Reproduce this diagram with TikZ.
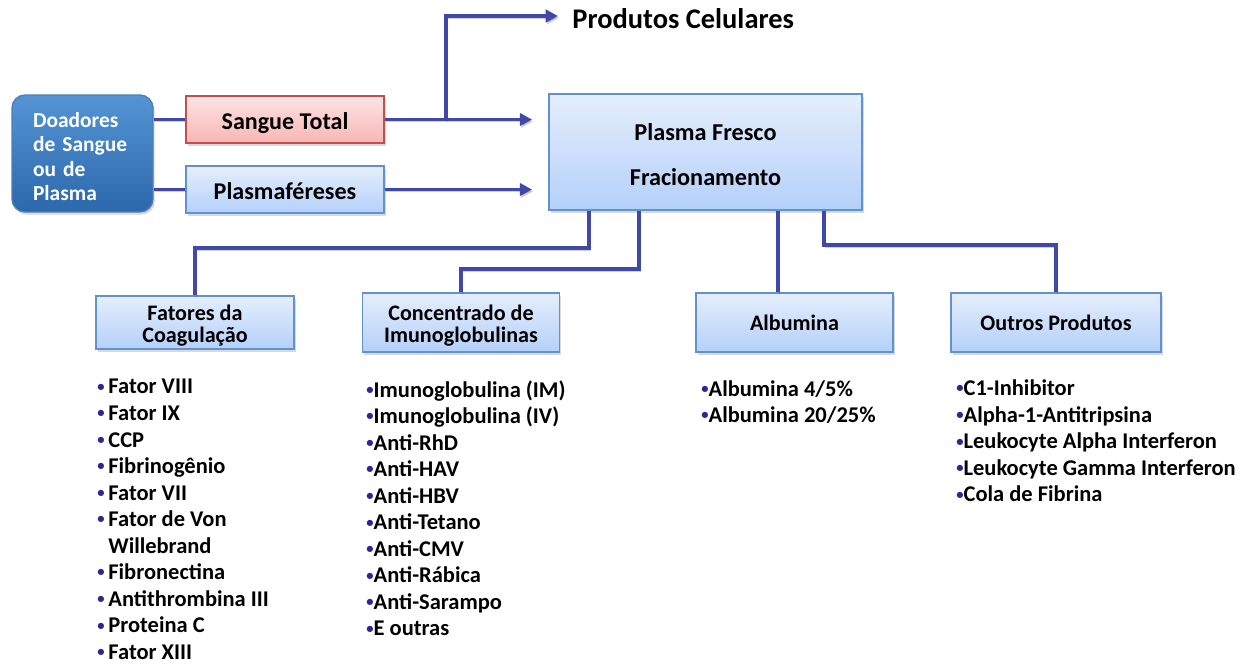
\documentclass[tikz,border=0pt]{standalone}
\usepackage{fontspec}
\setmainfont{Carlito}
\usepackage{tikz}
\usepackage{xcolor}
\usetikzlibrary{arrows.meta, positioning, calc, shadows}

\definecolor{linha}{RGB}{66,72,168}
\definecolor{bordaazul}{RGB}{98,146,206}
\definecolor{azulclaro}{RGB}{229,238,252}
\definecolor{azulmedio}{RGB}{180,208,250}
\definecolor{bordavermelha}{RGB}{192,80,77}
\definecolor{rosaclaro}{RGB}{253,228,227}
\definecolor{rosamedio}{RGB}{247,182,180}
\definecolor{doadtopo}{RGB}{84,148,212}
\definecolor{doadbase}{RGB}{44,104,172}
\definecolor{marcador}{RGB}{40,40,150}

\newcommand{\bul}{{\color{marcador}\raisebox{0.12em}{\scalebox{0.65}{\textbullet}}}}

\tikzset{
  sombra/.style={drop shadow={shadow xshift=1pt, shadow yshift=-1.5pt, opacity=0.3}},
  caixa/.style={sombra, draw=bordaazul, line width=1.1pt, top color=azulclaro, bottom color=azulmedio,
    inner sep=0pt, align=center, font=\bfseries\fontsize{12.6}{12.4}\selectfont},
  caixarosa/.style={caixa, draw=bordavermelha, top color=rosaclaro, bottom color=rosamedio},
  umalinha/.style={text height=11pt, text depth=0pt},
  doador/.style={sombra, draw=doadbase!85!white, line width=0.8pt, top color=doadtopo, bottom color=doadbase,
    rounded corners=0.26cm, minimum width=2.82cm, minimum height=2.34cm, text width=1.98cm, align=left,
    text=white, font=\bfseries\fontsize{12.2}{13.8}\selectfont},
  lista/.style={anchor=north west, inner sep=0pt, align=left, font=\bfseries\fontsize{12.8}{15.1}\selectfont},
  ligacao/.style={draw=linha, line width=2.2pt,
    preaction={draw=black, opacity=0.18, transform canvas={xshift=0.7pt, yshift=-1.1pt}}},
  seta/.style={ligacao, -{Triangle[length=7pt, width=7pt]}}
}

\begin{document}
\begin{tikzpicture}[x=0.02cm, y=-0.02cm]
\useasboundingbox (0,0) rectangle (1247,663);

% Doadores e entradas
\node[doador] (don) at (82.5,153.5) {\rule{0pt}{12pt}Doadores\\de Sangue\\ou de\\Plasma};
\node[caixarosa, umalinha, minimum width=3.96cm, minimum height=0.94cm] (sangue) at (285,119.5) {\fontsize{13.7}{14}\selectfont Sangue Total};
\node[caixa, umalinha, minimum width=3.96cm, minimum height=0.94cm] (plasmaf) at (285,189.5) {\fontsize{13.7}{14}\selectfont Plasmaféreses};

% Plasma e produtos celulares
\node[caixa, minimum width=6.26cm, minimum height=2.32cm] (plasma) at (705.5,152)
  {\fontsize{13.8}{14}\selectfont\rule{0pt}{13pt}Plasma Fresco\\[13.3pt]\fontsize{13.8}{14}\selectfont Fracionamento};
\node[anchor=base west, inner sep=0pt, font=\bfseries\fontsize{16.2}{18}\selectfont] (prod) at (572,28) {Produtos Celulares};
\coordinate (ramo) at (446,119.5);
\coordinate (chegaprod) at (558,16);

\draw[ligacao] (don.east |- sangue.west) -- (sangue.west);
\draw[ligacao] (don.east |- plasmaf.west) -- (plasmaf.west);
\draw[seta] (sangue.east) -- ($(plasma.west |- sangue.east)+(-16,0)$);
\draw[seta] (plasmaf.east) -- ($(plasma.west |- plasmaf.east)+(-16,0)$);
\draw[seta] (ramo) |- (chegaprod);

% Fracoes
\node[caixa, minimum width=3.96cm, minimum height=1.06cm] (fat) at (195,322.5) {\rule{0pt}{12pt}Fatores da\\Coagulação};
\node[caixa, minimum width=3.94cm, minimum height=1.18cm] (conc) at (461,322.5) {\rule{0pt}{12pt}Concentrado de\\Imunoglobulinas};
\node[caixa, minimum width=3.94cm, minimum height=1.18cm] (alb) at (794.5,322.5) {Albumina};
\node[caixa, minimum width=4.2cm, minimum height=1.18cm] (outros) at (1056,322.5) {Outros Produtos};

\draw[ligacao] (589,0 |- plasma.south) |- ([yshift=0.94cm]fat.north) -- (fat.north);
\draw[ligacao] (639,0 |- plasma.south) |- ([yshift=0.46cm]conc.north) -- (conc.north);
\draw[ligacao] (778,0 |- plasma.south) -- (778,0 |- alb.north);
\draw[ligacao] (824,0 |- plasma.south) |- ([yshift=0.94cm]outros.north) -- (outros.north);

% Listas
\node[lista] (listafat) at (97,379) {\bul\,Fator VIII\\\bul\,Fator IX\\\bul\,CCP\\\bul\,Fibrinogênio\\\bul\,Fator VII\\
  \bul\,Fator de Von\\\phantom{\bul\,}Willebrand\\\bul\,Fibronectina\\\bul\,Antithrombina III\\\bul\,Proteina C\\\bul\,Fator XIII};
\node[lista] (listaconc) at (366,380) {\bul Imunoglobulina (IM)\\\bul Imunoglobulina (IV)\\\bul Anti-RhD\\\bul Anti-HAV\\\bul Anti-HBV\\
  \bul Anti-Tetano\\\bul Anti-CMV\\\bul Anti-Rábica\\\bul Anti-Sarampo\\\bul E outras};
\node[lista] (listaalb) at (701,380) {\bul Albumina 4/5\%\\\bul Albumina 20/25\%};
\node[lista] (listaout) at (956,379.5) {\bul C1-Inhibitor\\\bul Alpha-1-Antitripsina\\\bul Leukocyte Alpha Interferon\\
  \bul Leukocyte Gamma Interferon\\\bul Cola de Fibrina};
\end{tikzpicture}
\end{document}
